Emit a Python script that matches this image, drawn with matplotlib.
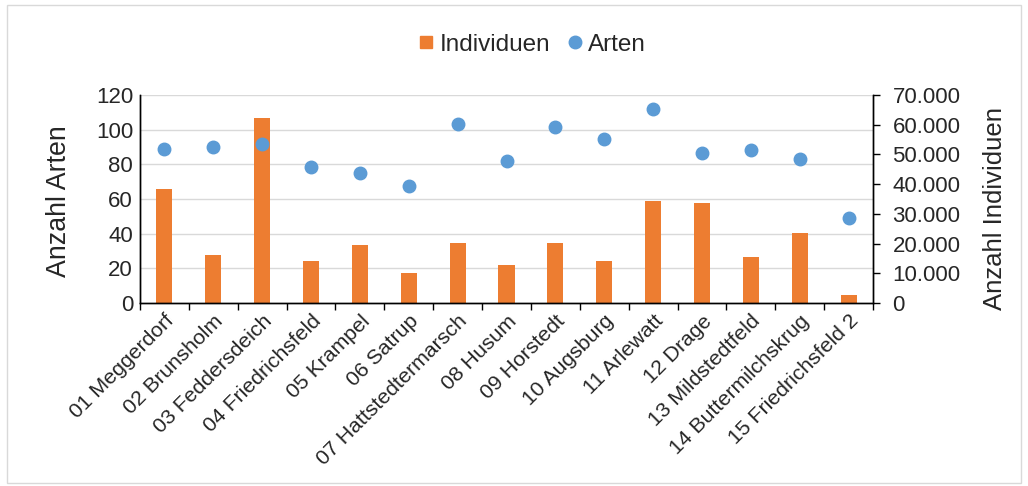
import matplotlib
matplotlib.use("Agg")
import matplotlib.pyplot as plt
from matplotlib.ticker import FuncFormatter
from matplotlib.patches import Rectangle
from matplotlib.lines import Line2D
import numpy as np

plt.rcParams['font.family'] = ['Liberation Sans', 'DejaVu Sans']

categories = ["01 Meggerdorf", "02 Brunsholm", "03 Feddersdeich", "04 Friedrichsfeld",
              "05 Krampel", "06 Satrup", "07 Hattstedtermarsch", "08 Husum",
              "09 Horstedt", "10 Augsburg", "11 Arlewatt", "12 Drage",
              "13 Mildstedtfeld", "14 Buttermilchskrug", "15 Friedrichsfeld 2"]
individuen = [38300, 16200, 62300, 14000, 19500, 10100, 20100, 12800,
              20100, 14100, 34200, 33500, 15500, 23400, 2700]
arten = [89, 90, 91.5, 78.5, 75, 67.3, 103, 82, 101.7, 94.8, 112, 86.7, 88, 83.3, 48.8]

orange = "#ED7D31"
blue = "#5B9BD5"
txt = "#262626"

W, H = 1028, 486
fig = plt.figure(figsize=(W/100, H/100), dpi=100)
fig.patches.append(Rectangle((7/W, 3/H), (W-14)/W, (H-8)/H, transform=fig.transFigure,
                             fill=False, edgecolor="#d9d9d9", linewidth=1))

left, right, top, bottom = 140, 873, 95, 303
ax = fig.add_axes([left/W, 1-bottom/H, (right-left)/W, (bottom-top)/H])
ax2 = ax.twinx()

x = np.arange(len(categories))
ax2.bar(x, individuen, width=0.33, color=orange, zorder=2, label="Individuen")
ax.plot(x, arten, 'o', color=blue, markersize=9, zorder=3, label="Arten")

ax.set_zorder(ax2.get_zorder() + 1)
ax.patch.set_visible(False)

ax.set_xlim(-0.5, len(categories) - 0.5)
ax.set_ylim(0, 120)
ax.set_yticks(np.arange(0, 121, 20))
ax2.set_ylim(0, 70000)
ax2.set_yticks(np.arange(0, 70001, 10000))
ax2.yaxis.set_major_formatter(FuncFormatter(lambda v, p: "0" if v == 0 else f"{int(v):,}".replace(",", ".")))

for yv in np.arange(20, 121, 20):
    ax2.axhline(yv / 120 * 70000, color="#d9d9d9", linewidth=1, zorder=0)

ax.set_xticks(np.arange(-0.5, len(categories), 1.0))
ax.set_xticklabels([])
ax.set_xticks(x, minor=True)
ax.set_xticklabels(categories, minor=True, rotation=45, ha='right', rotation_mode='anchor',
                   fontsize=15.3, color=txt)
ax.tick_params(axis='x', which='major', length=5, direction='out', width=1)
ax.tick_params(axis='x', which='minor', length=0, pad=6)

ax.tick_params(axis='y', labelsize=16, length=0, labelcolor=txt, pad=5)
ax2.tick_params(axis='y', labelsize=16, length=5, width=1, labelcolor=txt, pad=9)

for a in (ax, ax2):
    a.spines['top'].set_visible(False)
    for s in ('left', 'right', 'bottom'):
        a.spines[s].set_color('black')
        a.spines[s].set_linewidth(1)

ax.set_ylabel("Anzahl Arten", fontsize=19.3, color=txt, va='center')
ax.yaxis.set_label_coords(-0.11, 0.49)
ax2.set_ylabel("Anzahl Individuen", fontsize=18.5, color=txt, va='center', rotation=90)
ax2.yaxis.set_label_coords(1.166, 0.452)

handles = [Line2D([], [], marker='s', linestyle='none', color=orange, markersize=9),
           Line2D([], [], marker='o', linestyle='none', color=blue, markersize=9)]
fig.legend(handles, ["Individuen", "Arten"], loc='center', bbox_to_anchor=(530/W, 1-45/H),
           ncol=2, frameon=False, fontsize=17.5, handletextpad=0.05, columnspacing=0.5,
           handlelength=1.0, labelcolor=txt)

fig.savefig("out.png", dpi=100)
